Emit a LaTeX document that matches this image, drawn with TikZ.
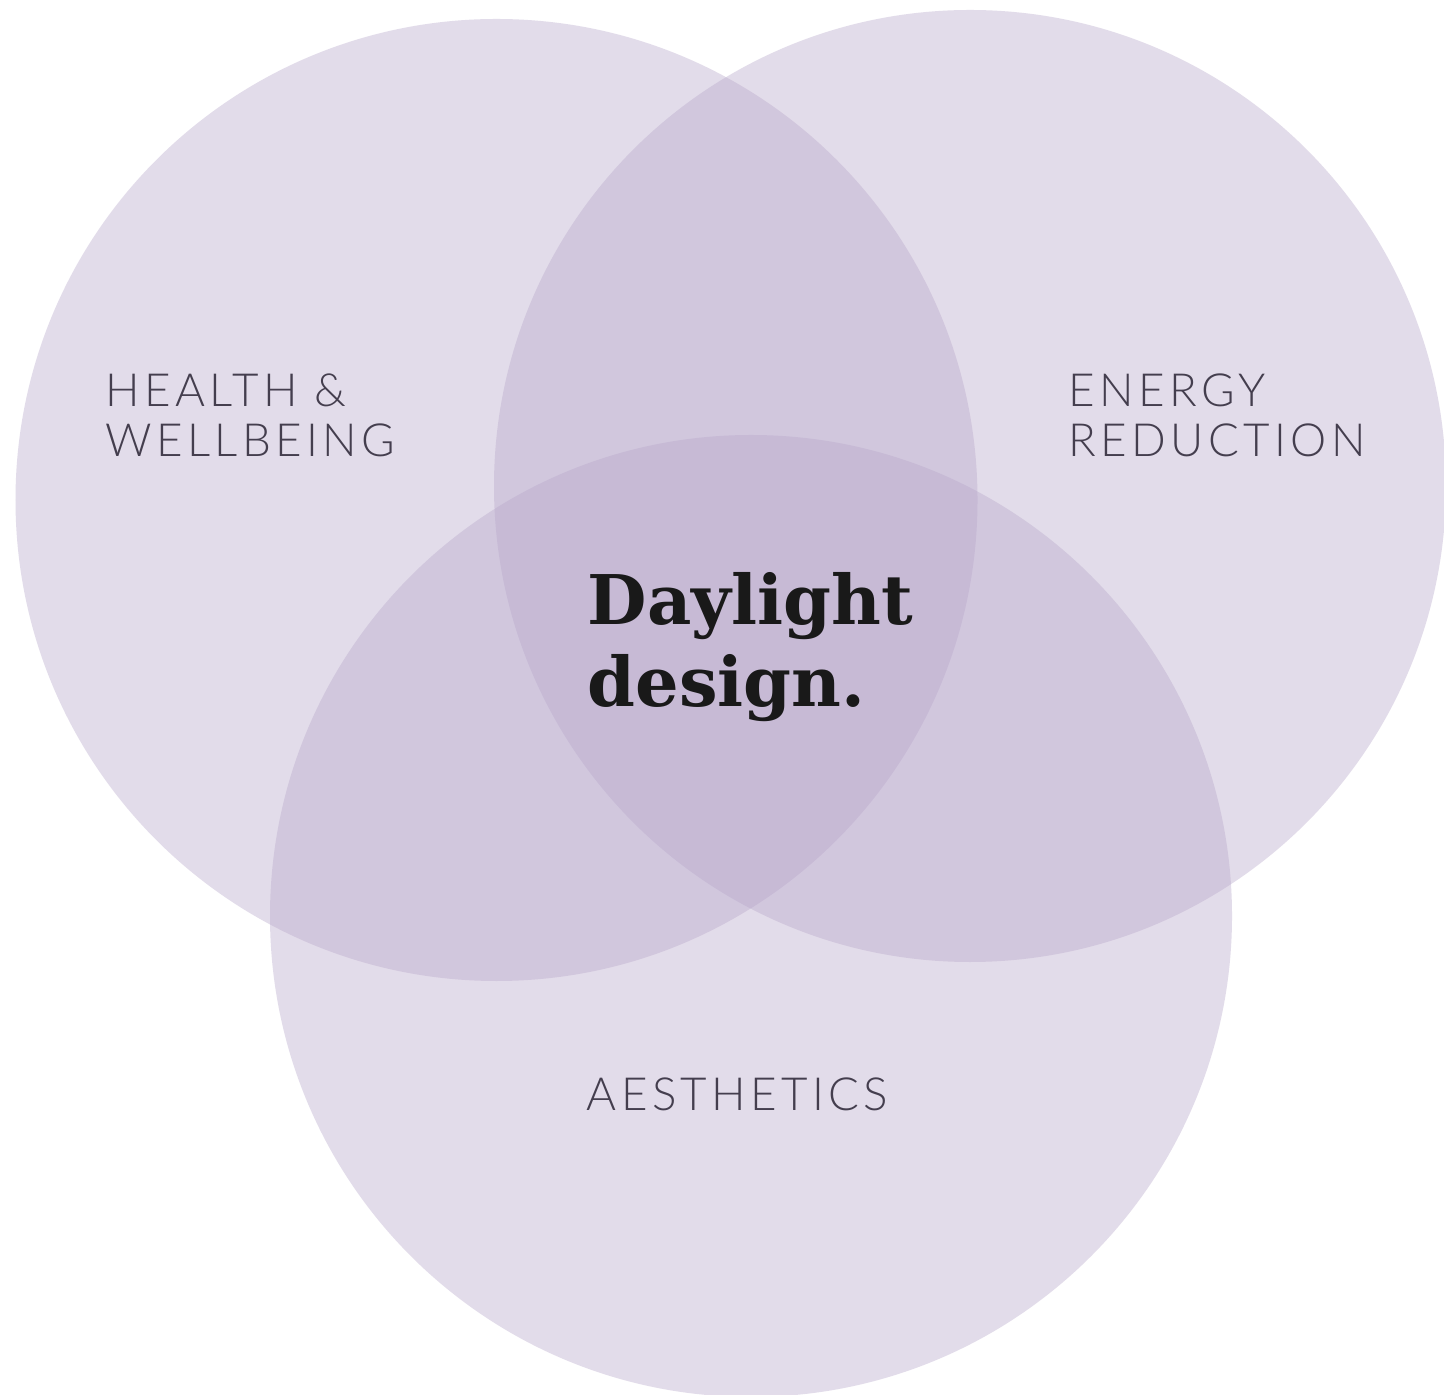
\documentclass[tikz,border=0pt]{standalone}
\usepackage{fontspec}
\usepackage{tikz}
\usetikzlibrary{calc}
\usetikzlibrary{positioning}
\newfontfamily\lbl[LetterSpace=9.5]{Lato Light}
\newfontfamily\slab{DejaVu Serif}
\definecolor{lilac}{RGB}{184,168,203}
\definecolor{labelgray}{RGB}{68,62,78}

\begin{document}
\begin{tikzpicture}[
	  venn/.style={circle,draw=none,fill=lilac,fill opacity=0.4,inner sep=0pt,minimum size=9.62cm},
	  area label/.style={font=\lbl\fontsize{13}{14.2}\selectfont,text=labelgray,inner sep=0pt,align=left},
	  main label/.style={font=\slab\bfseries\fontsize{19.5}{23.3}\selectfont,text=black!90,inner sep=0pt}]

	 \useasboundingbox (0,0) rectangle (14.44,13.94);
	 \fill[white] (0,0) rectangle (14.44,13.94);

	 \node[venn] (health) at (4.965,8.94) {};
	 \node[venn, minimum size=9.52cm] (energy) at (9.70,9.08) {};
	 \node[venn] (aesth) at (7.51,4.78) {};

	 \node[area label, anchor=base west] (hw1) at (1.05,9.87) {HEALTH \&};
	 \node[area label, anchor=base west] (hw2) at ($ (hw1.base west) + (270:0.50) $) {WELLBEING};
	 \node[area label, anchor=base west] (er1) at (10.68,9.87) {ENERGY};
	 \node[area label, anchor=base west] (er2) at ($ (er1.base west) + (270:0.50) $) {REDUCTION};
	 \node[area label, anchor=base] (ae) at (7.375,2.84) {AESTHETICS};

	 \node[main label, anchor=base west] (day) at (5.87,7.69) {Daylight};
	 \node[main label, anchor=base west] (des) at ($ (day.base west) + (270:0.82) $) {design.};
\end{tikzpicture}
\end{document}
